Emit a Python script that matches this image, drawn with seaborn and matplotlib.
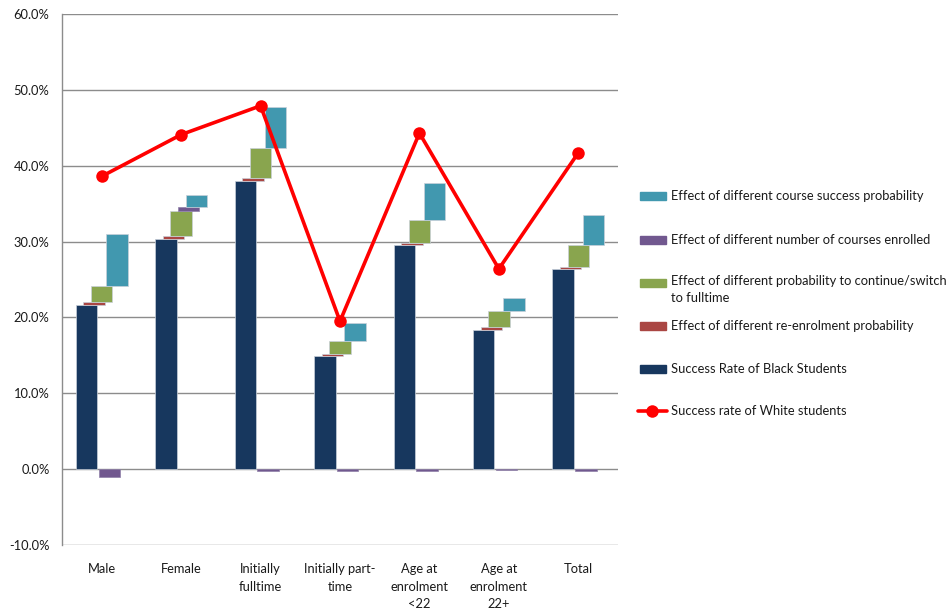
import numpy as np
import pandas as pd
import matplotlib
matplotlib.use("Agg")
import matplotlib.pyplot as plt
from matplotlib.patches import Rectangle
from matplotlib.lines import Line2D
import seaborn as sns

# ---- data (percent) ----
categories = ["Male", "Female", "Initially\nfulltime", "Initially part-\ntime",
              "Age at\nenrolment\n<22", "Age at\nenrolment\n22+", "Total"]
black_rate = [21.7, 30.4, 38.0, 14.9, 29.5, 18.3, 26.4]
reenrol_effect = [0.3, 0.4, 0.4, 0.3, 0.3, 0.4, 0.3]
continue_effect = [2.1, 3.2, 3.9, 1.7, 3.1, 2.1, 2.8]
courses_effect = [-1.1, 0.6, -0.2, -0.2, -0.2, -0.15, -0.2]
success_effect = [6.9, 1.6, 5.5, 2.4, 4.8, 1.7, 4.0]
white_rate = [38.6, 44.1, 47.9, 19.5, 44.3, 26.4, 41.7]

labels = {
    "success": "Effect of different course success probability",
    "courses": "Effect of different number of courses enrolled",
    "continue": "Effect of different probability to continue/switch\nto fulltime",
    "reenrol": "Effect of different re-enrolment probability",
    "black": "Success Rate of Black Students",
    "white": "Success rate of White students",
}
colors = {
    "success": "#4198AF",
    "courses": "#71588F",
    "continue": "#89A54E",
    "reenrol": "#AA4643",
    "black": "#17375E",
    "white": "#FF0000",
}

sns.set_style("white")
plt.rcParams["font.family"] = ["Lato", "DejaVu Sans"]
FS = 9.3
TXT = "#1a1a1a"

W, H = 951, 611
fig = plt.figure(figsize=(W / 100, H / 100), dpi=100)
ax = fig.add_axes([62 / W, 1 - 545 / H, (618 - 62) / W, (545 - 14) / H])

x = np.arange(len(categories))
df = pd.DataFrame({
    "x": x,
    "black": black_rate,
    "reenrol": reenrol_effect,
    "continue": continue_effect,
    "courses": courses_effect,
    "success": success_effect,
    "white": white_rate,
})

# floating waterfall bases: each effect starts where the previous positive ones end,
# a negative effect hangs below zero
df["base_reenrol"] = df["black"]
df["base_continue"] = df["black"] + df["reenrol"]
df["base_courses"] = np.where(df["courses"] >= 0, df["base_continue"] + df["continue"], 0.0)
df["base_success"] = df["base_continue"] + df["continue"] + df["courses"].clip(lower=0)

bar_w = 0.27
step = 0.0957
edge = dict(edgecolor="#c9d0da", linewidth=0.5)

ax.bar(df["x"] - 2 * step, df["black"], width=bar_w, color=colors["black"], zorder=3, **edge)
ax.bar(df["x"] - 1 * step, df["reenrol"], bottom=df["base_reenrol"], width=bar_w,
       color=colors["reenrol"], zorder=3, **edge)
ax.bar(df["x"], df["continue"], bottom=df["base_continue"], width=bar_w,
       color=colors["continue"], zorder=3, **edge)
ax.bar(df["x"] + 1 * step, df["courses"], bottom=df["base_courses"], width=bar_w,
       color=colors["courses"], zorder=3, edgecolor="#8f80a8", linewidth=0.5)
ax.bar(df["x"] + 2 * step, df["success"], bottom=df["base_success"], width=bar_w,
       color=colors["success"], zorder=3, **edge)

sns.lineplot(data=df, x="x", y="white", ax=ax, color=colors["white"], lw=2.6,
             marker="o", markersize=9, markeredgewidth=0, zorder=5, legend=False)

yt = np.arange(-10, 61, 10)
ax.set_xlim(-0.5, len(categories) - 0.5)
ax.set_ylim(-10, 60)
ax.set_yticks(yt)
ax.set_yticklabels([f"{v:.1f}%" for v in yt], fontsize=FS, color=TXT)
ax.set_xticks(x)
ax.set_xticklabels(categories, fontsize=FS, color=TXT, linespacing=1.55)
ax.tick_params(axis="both", length=0)
ax.tick_params(axis="y", pad=9)
ax.tick_params(axis="x", pad=13)
ax.set_xlabel("")
ax.set_ylabel("")

for v in yt:
    ax.axhline(v, color="#8c8c8c", lw=1.0, zorder=1)
for s in ["top", "right", "bottom"]:
    ax.spines[s].set_visible(False)
ax.spines["left"].set_color("#8c8c8c")
ax.spines["left"].set_linewidth(1.0)


# legend placed in figure pixel positions
def fx(px):
    return px / W


def fy(py):
    return 1 - py / H


rows = [("success", 196), ("courses", 240), ("continue", 283),
        ("reenrol", 326), ("black", 369), ("white", 411)]
for key, py in rows:
    if key == "white":
        fig.add_artist(Line2D([fx(638), fx(667)], [fy(py), fy(py)], color=colors[key], lw=2.6,
                              transform=fig.transFigure))
        fig.add_artist(Line2D([fx(652)], [fy(py)], color=colors[key], marker="o", markersize=9,
                              markeredgewidth=0, transform=fig.transFigure))
    else:
        fig.add_artist(Rectangle((fx(640), fy(py + 4)), fx(666) - fx(640), fy(py - 4) - fy(py + 4),
                                 color=colors[key], transform=fig.transFigure))
    if "\n" in labels[key]:
        fig.text(fx(671), fy(py - 8), labels[key], fontsize=FS, color=TXT,
                 va="top", linespacing=1.5)
    else:
        fig.text(fx(671), fy(py), labels[key], fontsize=FS, color=TXT, va="center")

fig.savefig("out.png", dpi=100, facecolor="white")
